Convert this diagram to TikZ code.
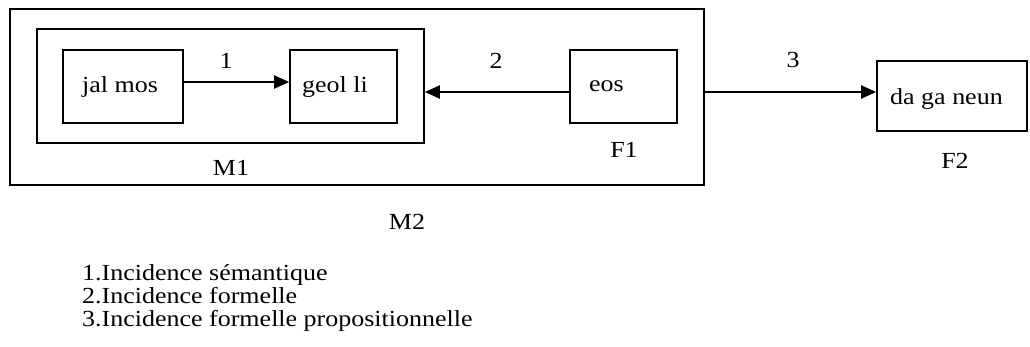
\documentclass[tikz,border=0pt]{standalone}
\usepackage{fontspec}
\setmainfont[FakeStretch=1.13]{Liberation Serif}
\usetikzlibrary{arrows.meta}
\begin{document}
\begin{tikzpicture}[x=1pt,y=-1pt,
  box/.style={draw=black,line width=1.6pt,inner sep=0pt},
  lbl/.style={inner sep=0pt,anchor=base,font=\fontsize{23}{26}\selectfont},
  lft/.style={lbl,anchor=base west},
  conn/.style={line width=2pt,-{Triangle[length=15pt,width=13pt]}}]
\useasboundingbox (0,0) rectangle (1030,346);
\fill[white] (0,0) rectangle (1030,346);
% boxes
\node[box,minimum width=694pt,minimum height=176pt] (m2) at (357,97) {};
\node[box,minimum width=387pt,minimum height=114pt] (m1) at (230.5,86) {};
\node[box,minimum width=120pt,minimum height=73pt] (jal) at (123,86.5) {};
\node[box,minimum width=107pt,minimum height=73pt] (geol) at (343.5,86.5) {};
\node[box,minimum width=107pt,minimum height=73pt] (eos) at (623.5,86.5) {};
\node[box,minimum width=150pt,minimum height=70pt] (f2) at (952,96) {};
% box texts
\node[lft] (tjal) at (82,92) {jal mos};
\node[lft] (tgeol) at (302,92) {geol li};
\node[lft] (teos) at (589,91) {eos};
\node[lft] (tf2) at (890,104) {da ga neun};
% connectors
\draw[conn] ([yshift=4.5pt]jal.east) -- ([yshift=4.5pt]geol.west);
\draw[conn] ([yshift=-5.5pt]eos.west) -- ([yshift=-6pt]m1.east);
\draw[conn] ([yshift=5pt]m2.east) -- ([yshift=4pt]f2.west);
% connector labels
\node[lbl] (l1) at (226,68) {1};
\node[lbl] (l2) at (496,68) {2};
\node[lbl] (l3) at (793,67) {3};
% group labels
\node[lbl] (lm1) at (231,175) {M1};
\node[lbl] (lf1) at (624,157) {F1};
\node[lbl] (lf2) at (955,168) {F2};
\node[lbl] (lm2) at (407,229) {M2};
% legend
\node[lft] (k1) at (82,280) {1.Incidence sémantique};
\node[lft] (k2) at (82,303) {2.Incidence formelle};
\node[lft] (k3) at (82,326) {3.Incidence formelle propositionnelle};
\end{tikzpicture}
\end{document}
